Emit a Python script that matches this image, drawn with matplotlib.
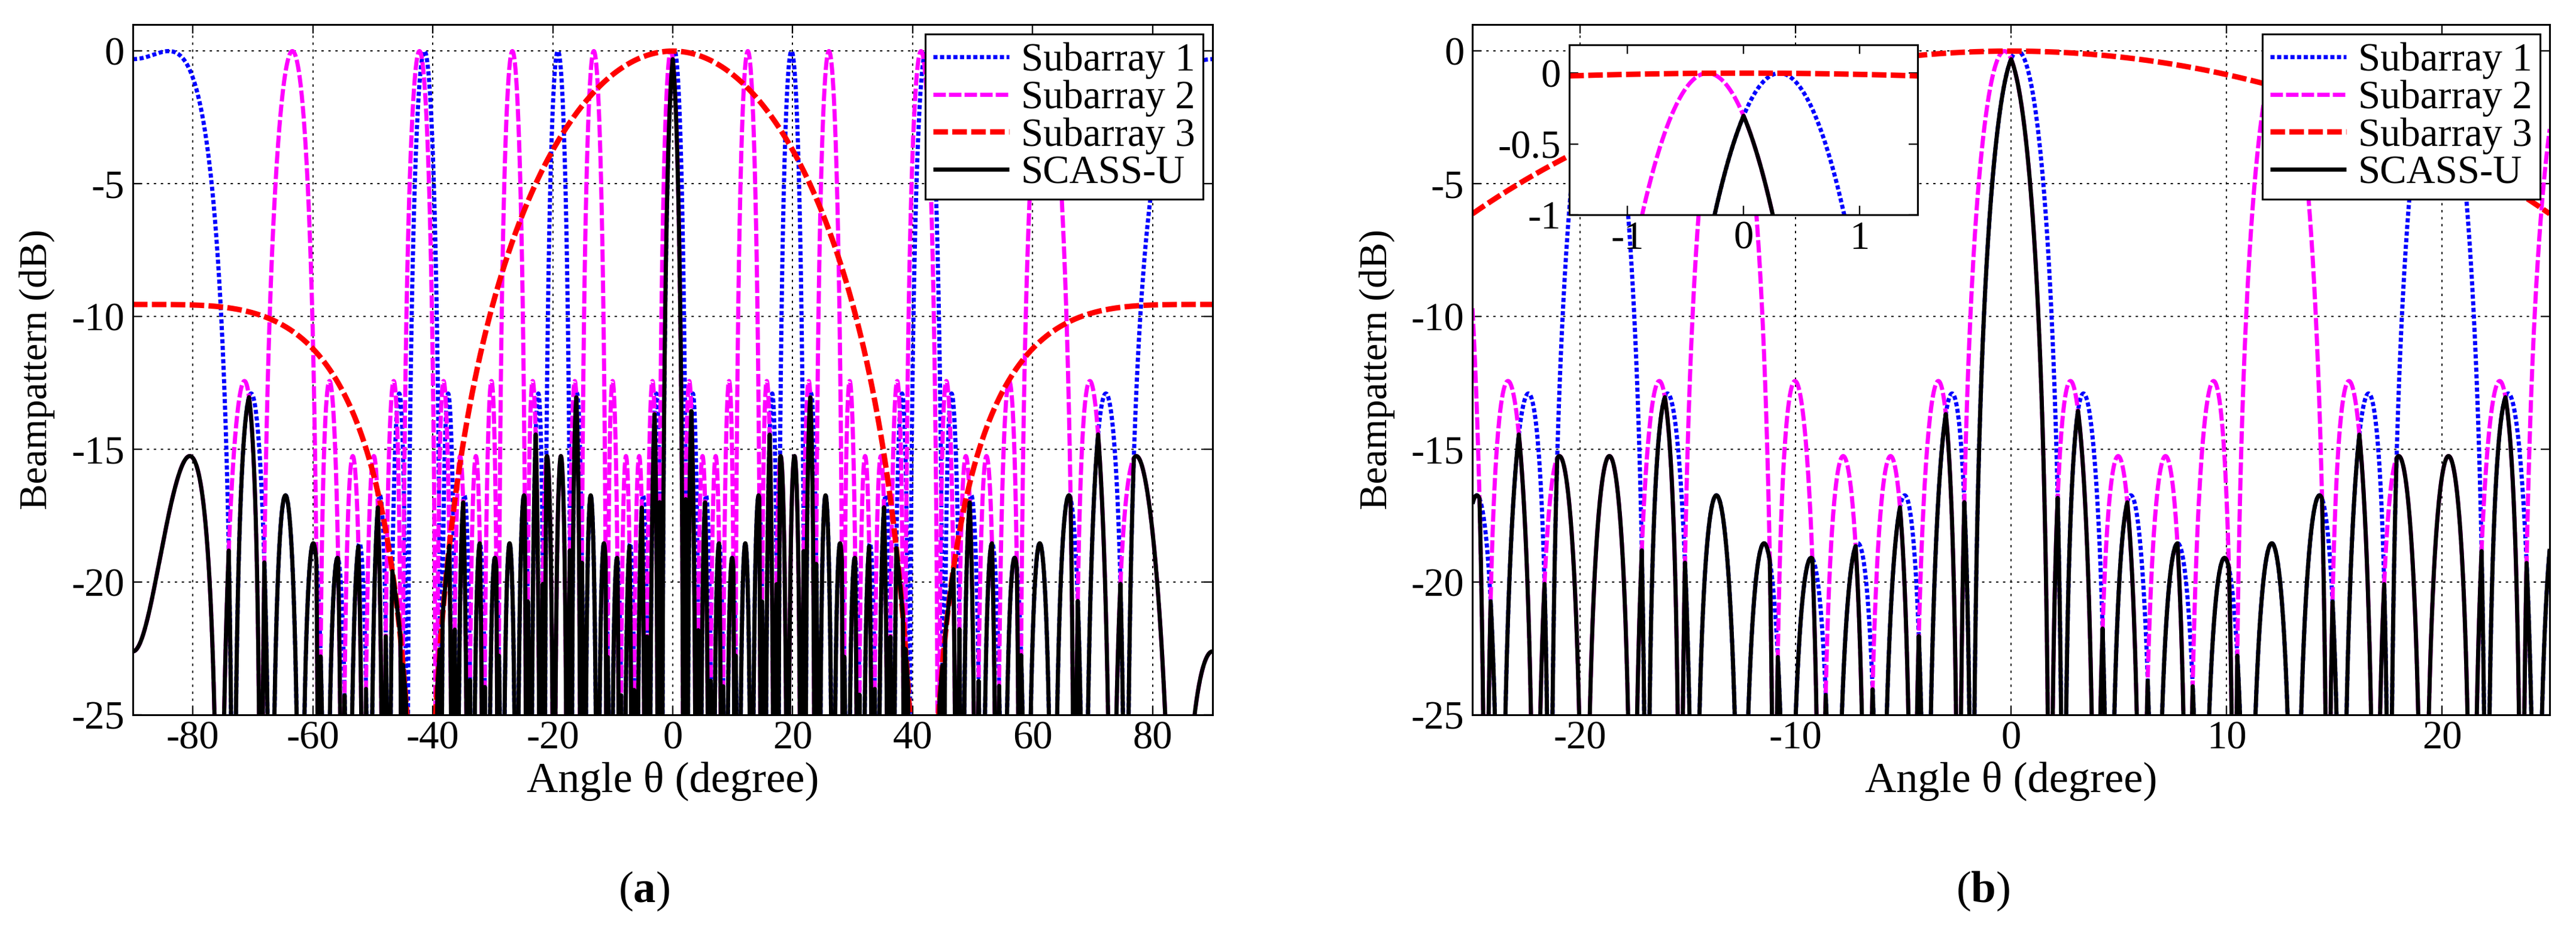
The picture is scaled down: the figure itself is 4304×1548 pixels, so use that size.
import numpy as np
import matplotlib
matplotlib.use('Agg')
import matplotlib.pyplot as plt

plt.rcParams['font.family'] = ['Liberation Serif', 'DejaVu Serif']
plt.rcParams['mathtext.fontset'] = 'custom'
plt.rcParams['mathtext.rm'] = 'Liberation Serif'
plt.rcParams['mathtext.bf'] = 'Liberation Serif:bold'
plt.rcParams['axes.unicode_minus'] = False

labels = ['Subarray 1', 'Subarray 2', 'Subarray 3', 'SCASS-U']
n_sensors = [9, 6, 3]
spacing = [6, 9, 1]            # sensor spacing in half wavelengths
steer = [0.31, -0.31, 0.0]     # main-lobe centre in degrees (see inset)

xticks_a = [-80, -60, -40, -20, 0, 20, 40, 60, 80]
xticks_b = [-20, -10, 0, 10, 20]
yticks = [0, -5, -10, -15, -20, -25]
inset_xticks = [-1, 0, 1]
inset_yticks = [0, -0.5, -1]
inset_ylabels = ['0', '-0.5', '-1']

colors = ['blue', 'magenta', 'red', 'black']
styles = [(0, (1.0, 0.6)), (0, (3.0, 0.75)), (0, (2.7, 0.8)), '-']
widths = [5, 5, 6.5, 5]


def beampattern(theta, n, d, th0):
    u = np.sin(np.radians(theta)) - np.sin(np.radians(th0))
    pos = np.arange(n) * d
    af = np.abs(np.exp(1j * np.pi * np.outer(u, pos)).sum(axis=1)) / n
    return 20 * np.log10(np.maximum(af, 1e-12))


def curves(theta):
    subs = [beampattern(theta, n, d, t) for n, d, t in zip(n_sensors, spacing, steer)]
    # SCASS-U output: min over the subarray patterns
    return subs + [np.min(subs, axis=0)]


def draw(ax, theta):
    for y, c, ls, lw, lab in zip(curves(theta), colors, styles, widths, labels):
        ax.plot(theta, y, color=c, linestyle=ls, linewidth=lw, label=lab,
                dash_capstyle='butt', solid_capstyle='butt')


def style(ax, fs=48):
    ax.tick_params(direction='in', top=True, right=True, length=11, width=1.7,
                   labelsize=fs)
    ax.tick_params(axis='x', pad=7)
    ax.tick_params(axis='y', pad=10)
    for s in ax.spines.values():
        s.set_linewidth(2.2)


fig = plt.figure(figsize=(43.04, 15.48), dpi=100)
ax_a = fig.add_axes([0.0516, 0.2280, 0.4191, 0.7455])
ax_b = fig.add_axes([0.5716, 0.2280, 0.4182, 0.7455])

panels = [(ax_a, np.linspace(-90, 90, 36001), (-90, 90), xticks_a),
          (ax_b, np.linspace(-25, 25, 20001), (-25, 25), xticks_b)]

for ax, theta, xlim, xt in panels:
    draw(ax, theta)
    ax.set_xlim(*xlim)
    ax.set_ylim(-25, 1)
    ax.set_xticks(xt)
    ax.set_yticks(yticks)
    ax.grid(True, color='k', linestyle=(0, (2, 4)), linewidth=1.4)
    ax.set_axisbelow(True)
    style(ax)
    ax.set_xlabel('Angle θ (degree)', fontsize=52, labelpad=5)
    ax.set_ylabel('Beampattern (dB)', fontsize=47)
    ax.yaxis.set_label_coords(-0.072, 0.5)
    leg = ax.legend(loc='upper right', bbox_to_anchor=(0.991, 0.986),
                    borderaxespad=0, fontsize=48, fancybox=False,
                    edgecolor='k', framealpha=1, handlelength=1.9,
                    handletextpad=0.3, labelspacing=0.02, borderpad=0.2)
    leg.get_frame().set_linewidth(2.2)

# zoom on the main lobe
ax_in = fig.add_axes([0.6092, 0.7681, 0.1352, 0.1835])
draw(ax_in, np.linspace(-1.5, 1.5, 3001))
ax_in.set_xlim(-1.5, 1.5)
ax_in.set_ylim(-1, 0.2)
ax_in.set_xticks(inset_xticks)
ax_in.set_yticks(inset_yticks)
ax_in.set_yticklabels(inset_ylabels)
style(ax_in)

fig.text(1076 / 4304, 1 - 1490 / 1548, r'($\mathbf{a}$)', ha='center', va='center', fontsize=54)
fig.text(3313 / 4304, 1 - 1490 / 1548, r'($\mathbf{b}$)', ha='center', va='center', fontsize=54)

fig.savefig('out.png', dpi=100, facecolor='white')
